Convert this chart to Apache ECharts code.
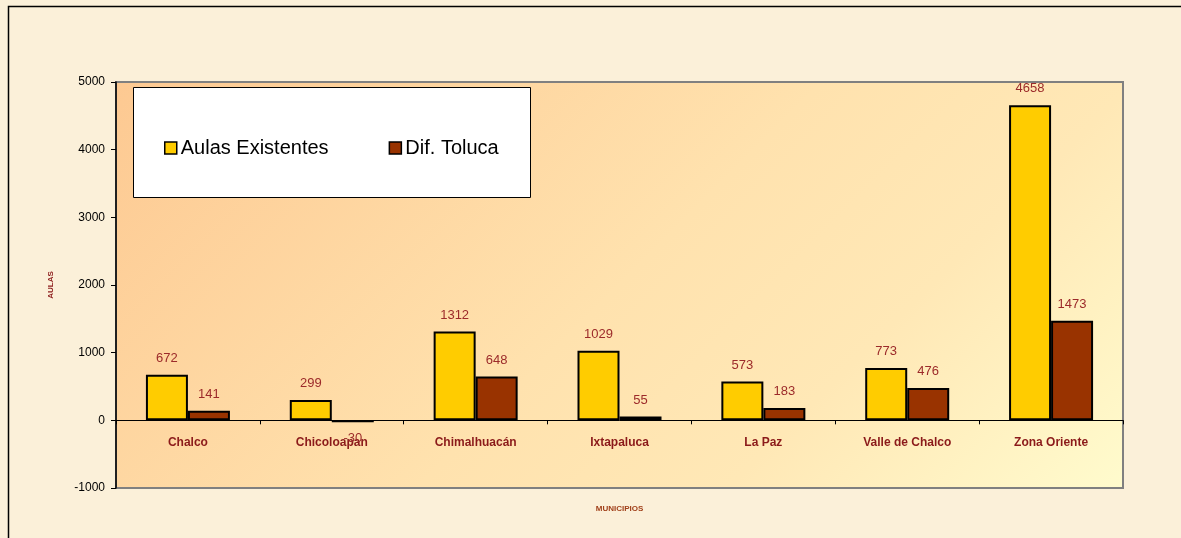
<!DOCTYPE html>
<html>
<head>
<meta charset="utf-8">
<script src="https://cdn.jsdelivr.net/npm/echarts@6/dist/echarts.min.js"></script>
<style>
html, body { margin: 0; padding: 0; background: #fbf0d9; }
#chart { width: 1181px; height: 538px; }
</style>
</head>
<body>
<div id="chart"></div>
<script>
const municipios = ['Chalco', 'Chicoloapan', 'Chimalhuacán', 'Ixtapaluca', 'La Paz', 'Valle de Chalco', 'Zona Oriente'];
const aulasExistentes = [672, 299, 1312, 1029, 573, 773, 4658];
const difToluca = [141, -30, 648, 55, 183, 476, 1473];

const labelColor = '#9c2a2a';
const darkRed = '#8b1a1a';

const myChart = echarts.init(document.getElementById('chart'));

// los negativos llevan la etiqueta debajo de la barra
const withLabelPos = (data) => data.map((v) => ({
	value: v,
	label: { position: v < 0 ? 'bottom' : 'top' },
}));

const barSeries = (name, data, color) => ({
	name: name,
	type: 'bar',
	data: withLabelPos(data),
	barWidth: 42,
	barGap: '0%',
	itemStyle: {
		color: color,
		borderColor: '#000',
		borderWidth: 2,
	},
	label: {
		show: true,
		position: 'top',
		distance: 10,
		color: labelColor,
		fontFamily: 'Arial, Liberation Sans',
		fontSize: 13,
	},
});

const option = {
	backgroundColor: '#fbf0d9',
	animation: false,
	graphic: [
		// marco exterior
		{
			type: 'rect',
			shape: { x: 8.5, y: 6.5, width: 1300, height: 700 },
			style: { fill: 'none', stroke: '#000', lineWidth: 1.5 },
			z: 0,
		},
		// caja de la leyenda
		{
			type: 'rect',
			shape: { x: 133.5, y: 87.5, width: 397, height: 110 },
			style: { fill: '#fff', stroke: '#000', lineWidth: 1 },
			z: 10,
		},
	],
	legend: {
		left: 159,
		top: 133,
		itemWidth: 12,
		itemHeight: 12,
		itemGap: 60,
		icon: 'rect',
		z: 20,
		textStyle: {
			color: '#000',
			fontFamily: 'Arial, Liberation Sans',
			fontSize: 20,
			padding: [0, 0, 0, -1],
		},
		itemStyle: { borderColor: '#000', borderWidth: 1.5 },
	},
	grid: {
		left: 116,
		right: 58,
		top: 82,
		bottom: 50,
		outerBoundsMode: 'none',
		containLabel: false,
		show: true,
		borderColor: '#808080',
		borderWidth: 2,
		// degradado a 45 grados en pixeles
		backgroundColor: new echarts.graphic.LinearGradient(116, 82, 823, 789, [
			{ offset: 0, color: '#fdc992' },
			{ offset: 0.5, color: '#ffe2ae' },
			{ offset: 0.72, color: '#ffe8b6' },
			{ offset: 1, color: '#fffbcd' },
		], true),
	},
	xAxis: {
		type: 'category',
		data: municipios,
		name: 'MUNICIPIOS',
		nameLocation: 'middle',
		nameGap: 17,
		nameTextStyle: {
			color: '#a0401a',
			fontWeight: 'bold',
			fontFamily: 'Arial, Liberation Sans',
			fontSize: 8,
		},
		axisLine: { onZero: true, lineStyle: { color: '#000', width: 1 } },
		axisTick: { show: true, length: 4, lineStyle: { color: '#000' } },
		axisLabel: {
			color: darkRed,
			fontWeight: 'bold',
			fontFamily: 'Arial, Liberation Sans',
			fontSize: 12,
			margin: -51,
		},
	},
	yAxis: {
		type: 'value',
		min: -1000,
		max: 5000,
		interval: 1000,
		name: 'AULAS',
		nameLocation: 'middle',
		nameGap: 61,
		nameRotate: 90,
		nameTextStyle: {
			color: darkRed,
			fontWeight: 'bold',
			fontFamily: 'Arial, Liberation Sans',
			fontSize: 8,
		},
		splitLine: { show: false },
		axisLine: { show: true, lineStyle: { color: '#000', width: 1.5 } },
		axisTick: { show: true, length: 5, lineStyle: { color: '#000' } },
		axisLabel: {
			color: '#000',
			fontFamily: 'Arial, Liberation Sans',
			fontSize: 12,
			margin: 11,
			formatter: (v) => String(v),
		},
	},
	series: [
		barSeries('Aulas Existentes', aulasExistentes, '#ffcc00'),
		barSeries('Dif. Toluca', difToluca, '#993300'),
	],
};

myChart.setOption(option);
</script>
</body>
</html>
